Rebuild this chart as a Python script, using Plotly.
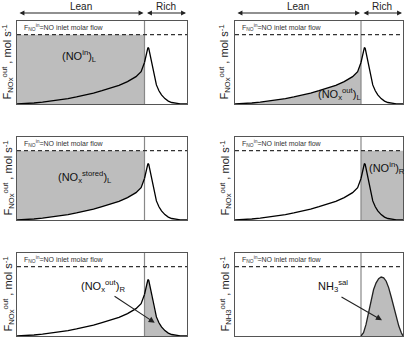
import plotly.graph_objects as go

# ---- data (schematic) ----
SWITCH_T = 0.75          # lean -> rich switch time (fraction of cycle)
INLET_FLOW = 0.835       # F_NO^in level
lean_t = [0, 0.05, 0.1, 0.15, 0.2, 0.25, 0.3, 0.35, 0.4, 0.45, 0.5, 0.55, 0.6, 0.65, 0.7, 0.73, 0.75]
lean_f = [0, 0.004, 0.012, 0.022, 0.035, 0.05, 0.066, 0.085, 0.106, 0.13, 0.16, 0.19, 0.225, 0.27, 0.33, 0.39, 0.50]
rich_t = [0.75, 0.755, 0.76, 0.765, 0.77, 0.775, 0.78, 0.79, 0.80, 0.81, 0.82, 0.835, 0.85, 0.87, 0.89, 0.91, 0.93, 0.96, 1.0]
rich_f = [0.50, 0.55, 0.61, 0.66, 0.68, 0.67, 0.62, 0.50, 0.39, 0.30, 0.23, 0.16, 0.11, 0.065, 0.035, 0.018, 0.008, 0.002, 0.0]
nh3_t = [0.75, 0.765, 0.78, 0.795, 0.81, 0.825, 0.84, 0.855, 0.87, 0.885, 0.9, 0.915, 0.93, 0.945, 0.96, 0.975, 0.99, 1.0]
nh3_f = [0, 0.04, 0.14, 0.28, 0.43, 0.56, 0.64, 0.69, 0.71, 0.70, 0.66, 0.58, 0.47, 0.35, 0.23, 0.12, 0.04, 0.0]

ytitle_nox = "F<sub>NOx</sub><sup>out</sup> , mol s<sup>-1</sup>"
ytitle_nh3 = "F<sub>NH3</sub><sup>out</sup> , mol s<sup>-1</sup>"
inlet_label = "F<sub>NO</sub><sup>in</sup>=NO inlet molar flow"
panel_labels = ["(NO<sup>in</sup>)<sub>L</sub>",
                "(NO<sub>x</sub><sup>out</sup>)<sub>L</sub>",
                "(NO<sub>x</sub><sup>stored</sup>)<sub>L</sub>",
                "(NO<sup>in</sup>)<sub>R</sub>",
                "(NO<sub>x</sub><sup>out</sup>)<sub>R</sub>",
                "NH<sub>3</sub><sup>sal</sup>"]
phase_labels = ["Lean", "Rich"]

FONT = "Arial, Liberation Sans, sans-serif"
GREY = "#bdbdbd"
W, H = 405, 352
xdoms = [[17 / W, 187 / W], [235 / W, 403 / W]]
ydoms = [[(H - 104) / H, (H - 21) / H], [(H - 220) / H, (H - 137) / H], [(H - 336) / H, (H - 253) / H]]

fig = go.Figure()
layout = dict(width=W, height=H, margin=dict(l=0, r=0, t=0, b=0),
              paper_bgcolor="white", plot_bgcolor="white", showlegend=False)
annotations = []

def ax_names(i):
    s = "" if i == 1 else str(i)
    return "x" + s, "y" + s, "xaxis" + s, "yaxis" + s

for i in range(1, 7):
    row = (i - 1) // 2
    col = (i - 1) % 2
    xr, yr, xk, yk = ax_names(i)
    layout[xk] = dict(domain=xdoms[col], range=[0, 1], showticklabels=False, ticks="",
                      showgrid=False, zeroline=False, showline=True, mirror=True,
                      linecolor="#555", linewidth=1.3, anchor=yr)
    layout[yk] = dict(domain=ydoms[row], range=[0, 1], showticklabels=False, ticks="",
                      showgrid=False, zeroline=False, showline=True, mirror=True,
                      linecolor="#555", linewidth=1.3, anchor=xr)
    tr = dict(xaxis=xr, yaxis=yr, hoverinfo="skip")

    # fills
    if i == 1:
        fig.add_trace(go.Scatter(x=[0, SWITCH_T], y=[INLET_FLOW, INLET_FLOW], mode="none",
                                 fill="tozeroy", fillcolor=GREY, **tr))
    elif i == 2:
        fig.add_trace(go.Scatter(x=lean_t, y=lean_f, mode="none", fill="tozeroy",
                                 fillcolor=GREY, **tr))
    elif i == 3:
        fig.add_trace(go.Scatter(x=lean_t + lean_t[::-1],
                                 y=lean_f + [INLET_FLOW] * len(lean_t), mode="none",
                                 fill="toself", fillcolor=GREY, **tr))
    elif i == 4:
        fig.add_trace(go.Scatter(x=[SWITCH_T, 1], y=[INLET_FLOW, INLET_FLOW], mode="none",
                                 fill="tozeroy", fillcolor=GREY, **tr))
    elif i == 5:
        fig.add_trace(go.Scatter(x=rich_t, y=rich_f, mode="none", fill="tozeroy",
                                 fillcolor=GREY, **tr))

    # vertical switch line
    fig.add_trace(go.Scatter(x=[SWITCH_T, SWITCH_T], y=[0, 1], mode="lines",
                             line=dict(color="#888", width=1.2), **tr))
    # dashed inlet line
    fig.add_trace(go.Scatter(x=[0, 1], y=[INLET_FLOW, INLET_FLOW], mode="lines",
                             line=dict(color="#333", width=1.3, dash="4px,3px"), **tr))
    # curves
    if i < 6:
        fig.add_trace(go.Scatter(x=lean_t, y=lean_f, mode="lines",
                                 line=dict(color="black", width=1.3), **tr))
        fig.add_trace(go.Scatter(x=rich_t, y=rich_f, mode="lines",
                                 line=dict(color="black", width=1.3), **tr))
    else:
        fig.add_trace(go.Scatter(x=nh3_t, y=nh3_f, mode="lines", fill="tozeroy",
                                 fillcolor=GREY, line=dict(color="#222", width=1.3), **tr))

    # inlet text
    annotations.append(dict(xref=xr, yref=yr, x=0.03, y=0.925, text=inlet_label,
                            showarrow=False, xanchor="left", yanchor="middle",
                            font=dict(family=FONT, size=7, color="#333")))
    # x title
    annotations.append(dict(xref=xr, yref=yr, x=0.5, y=-0.13, text="time, s",
                            showarrow=False, xanchor="center", yanchor="middle",
                            font=dict(family=FONT, size=10, color="#222")))
    # y title
    ytx = 8 / W if col == 0 else 225 / W
    annotations.append(dict(xref="paper", yref="paper", x=ytx, y=sum(ydoms[row]) / 2,
                            text=ytitle_nh3 if i == 6 else ytitle_nox, textangle=-90,
                            showarrow=False, xanchor="center", yanchor="middle",
                            font=dict(family=FONT, size=11, color="#222")))

# panel labels
label_pos = {1: (0.37, 0.58), 2: (0.62, 0.12), 3: (0.40, 0.52), 4: (0.905, 0.63),
             5: (0.505, 0.6), 6: (0.585, 0.6)}
for i, (lx, ly) in label_pos.items():
    xr, yr, _, _ = ax_names(i)
    annotations.append(dict(xref=xr, yref=yr, x=lx, y=ly, text=panel_labels[i - 1],
                            showarrow=False, xanchor="center", yanchor="middle",
                            font=dict(family=FONT, size=11, color="#111")))

# pointer arrows
for i, (hx, hy, tx, ty) in {5: (0.81, 0.16, 0.565, 0.49), 6: (0.875, 0.19, 0.625, 0.48)}.items():
    xr, yr, _, _ = ax_names(i)
    annotations.append(dict(xref=xr, yref=yr, axref=xr, ayref=yr, x=hx, y=hy, ax=tx, ay=ty,
                            text="", showarrow=True, arrowhead=2, arrowsize=1.1,
                            arrowwidth=1.1, arrowcolor="#222"))

# Lean / Rich double arrows above the top row (paper coordinates)
arrow_y = 1 - 13 / H
text_y = 1 - 6 / H
for col in (0, 1):
    d0, d1 = xdoms[col]
    span = d1 - d0
    for (a, b, lab) in ((0, SWITCH_T, phase_labels[0]), (SWITCH_T, 1, phase_labels[1])):
        xa = d0 + a * span
        xb = d0 + b * span
        annotations.append(dict(xref="paper", yref="paper", x=xb, y=arrow_y,
                                ax=-(xb - xa) * W, ay=0, axref="pixel", ayref="pixel",
                                text="", showarrow=True, arrowhead=2, startarrowhead=2,
                                arrowside="end+start", arrowsize=0.9, arrowwidth=1.1,
                                arrowcolor="#222", standoff=1, startstandoff=1))
        annotations.append(dict(xref="paper", yref="paper", x=(xa + xb) / 2, y=text_y,
                                text=lab, showarrow=False, xanchor="center", yanchor="middle",
                                font=dict(family=FONT, size=10, color="#222")))

layout["annotations"] = annotations
fig.update_layout(**layout)
fig.write_html("out.html")
